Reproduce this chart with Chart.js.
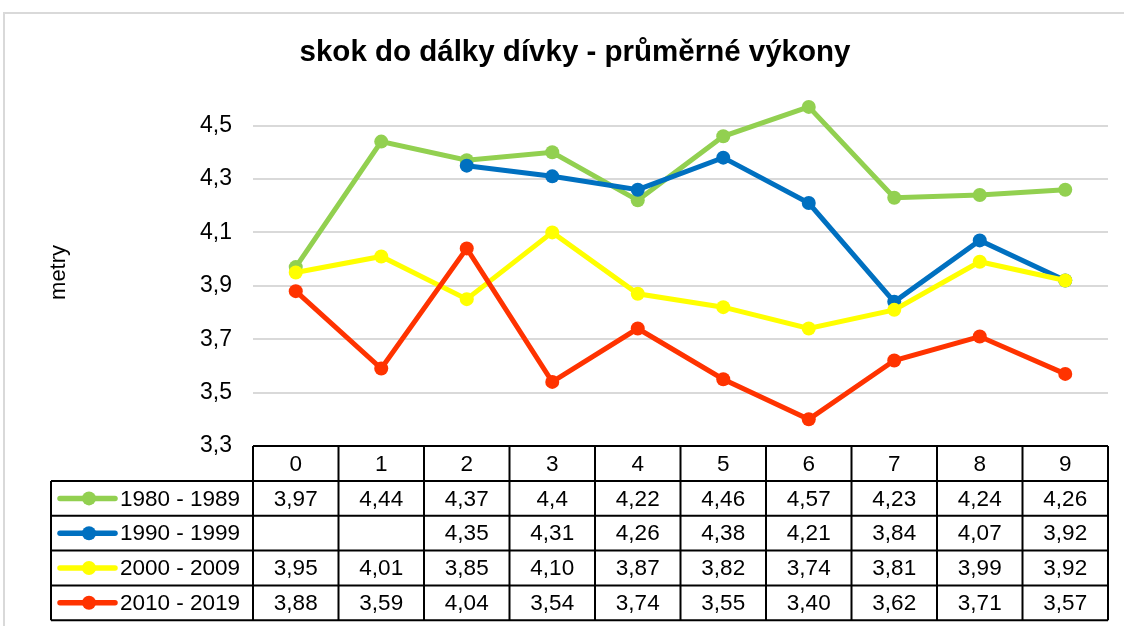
<!DOCTYPE html>
<html lang="cs">
<head>
<meta charset="UTF-8" />
<title>skok do dálky dívky - průměrné výkony</title>
<script src="https://cdn.jsdelivr.net/npm/chart.js@4.4.0/dist/chart.umd.min.js"></script>
<style>
*{box-sizing:border-box}
body{margin:0;background:#fff;overflow:hidden}
#frame{position:absolute;left:3px;top:12px;width:1200px;height:700px;border:2px solid #d9d9d9}
#wrap{position:absolute;left:0;top:0;width:1124px;height:626px}
</style>
</head>
<body>
<div id="frame"></div>
<div id="wrap"><canvas id="chart"></canvas></div>

<script>
/* ---------- data ---------- */
const categories = ['0','1','2','3','4','5','6','7','8','9'];
const seriesNames = ['1980 - 1989','1990 - 1999','2000 - 2009','2010 - 2019'];
const s1980 = [3.97,4.44,4.37,4.4,4.22,4.46,4.57,4.23,4.24,4.26];
const s1990 = [null,null,4.35,4.31,4.26,4.38,4.21,3.84,4.07,3.92];
const s2000 = [3.95,4.01,3.85,4.10,3.87,3.82,3.74,3.81,3.99,3.92];
const s2010 = [3.88,3.59,4.04,3.54,3.74,3.55,3.40,3.62,3.71,3.57];
const yTicks = [3.3,3.5,3.7,3.9,4.1,4.3,4.5];
// table number format per series (null = general)
const decimals = [null,2,2,2];

const colors = ['#92d050','#0070c0','#ffff00','#ff3300'];
const FONT = "'Liberation Sans', Arial, sans-serif";

const comma = (v,d)=> v==null ? '' : (d==null ? String(v) : v.toFixed(d)).replace('.',',');

/* ---------- data table under the plot ---------- */
const dataTable = {
  id:'dataTable',
  afterDraw(chart){
    const ctx=chart.ctx, ca=chart.chartArea, xs=chart.scales.x;
    const n=categories.length, colW=ca.width/n;
    const top=ca.bottom, headH=35, rowH=34.8, legL=51;
    const bottom=top+headH+rowH*chart.data.datasets.length;
    ctx.save();
    ctx.strokeStyle='#000'; ctx.lineWidth=2;
    ctx.beginPath();
    ctx.moveTo(ca.left,top); ctx.lineTo(ca.right,top);
    for(let r=0;r<=chart.data.datasets.length;r++){
      const y=top+headH+r*rowH;
      ctx.moveTo(legL,y); ctx.lineTo(ca.right,y);
    }
    ctx.moveTo(legL,top+headH); ctx.lineTo(legL,bottom);
    for(let k=0;k<=n;k++){
      const x=ca.left+k*colW;
      ctx.moveTo(x,top); ctx.lineTo(x,bottom);
    }
    ctx.stroke();

    ctx.fillStyle='#000'; ctx.font='22.5px '+FONT;
    ctx.textAlign='center'; ctx.textBaseline='middle';
    categories.forEach((c,i)=>ctx.fillText(c,xs.getPixelForValue(i),top+headH/2+1));

    chart.data.datasets.forEach((ds,r)=>{
      const yc=top+headH+r*rowH+rowH/2+1;
      ds.data.forEach((v,i)=>{
        ctx.fillStyle='#000'; ctx.textAlign='center';
        ctx.fillText(comma(v,decimals[r]),xs.getPixelForValue(i),yc);
      });
      // legend key
      ctx.strokeStyle=ds.borderColor; ctx.lineWidth=5.5; ctx.lineCap='round';
      ctx.beginPath(); ctx.moveTo(legL+9,yc-1); ctx.lineTo(legL+64,yc-1); ctx.stroke();
      ctx.fillStyle=ds.borderColor;
      ctx.beginPath(); ctx.arc(legL+38,yc-1,7,0,Math.PI*2); ctx.fill();
      ctx.fillStyle='#000'; ctx.textAlign='left';
      ctx.fillText(seriesNames[r],legL+69,yc);
    });
    ctx.restore();
  }
};

const series=[s1980,s1990,s2000,s2010];
new Chart(document.getElementById('chart'),{
  type:'line',
  data:{
    labels:categories,
    datasets:series.map((d,i)=>({
      label:seriesNames[i], data:d,
      borderColor:colors[i], backgroundColor:colors[i],
      pointBackgroundColor:colors[i], pointBorderWidth:0,
      borderWidth:5, pointRadius:7, tension:0, spanGaps:false,
      order:series.length-i
    }))
  },
  options:{
    responsive:true, maintainAspectRatio:false, animation:false,
    layout:{padding:{left:42,right:16,top:0,bottom:180}},
    plugins:{
      legend:{display:false}, tooltip:{enabled:false},
      title:{display:true,text:'skok do dálky dívky - průměrné výkony',
        color:'#000',font:{family:FONT,size:29.5,weight:'bold'},
        padding:{top:35,bottom:28.5}}
    },
    scales:{
      x:{display:false,offset:true},
      y:{
        min:3.3,max:4.6,
        afterBuildTicks:s=>{s.ticks=yTicks.map(v=>({value:v}));},
        afterFit:s=>{s.width=253-42;},
        border:{display:false},
        grid:{color:'#d9d9d9',lineWidth:2,drawTicks:false},
        ticks:{color:'#000',padding:21,font:{family:FONT,size:23},
          callback:v=>comma(v,1)},
        title:{display:true,text:'metry',color:'#000',font:{family:FONT,size:22}}
      }
    }
  },
  plugins:[dataTable]
});
</script>
</body>
</html>
